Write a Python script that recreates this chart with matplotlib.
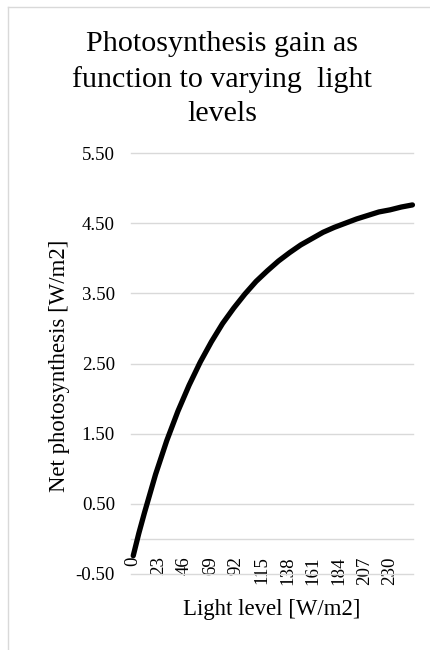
import matplotlib
matplotlib.use('Agg')
import matplotlib.pyplot as plt
from matplotlib.lines import Line2D

# Data
light_level = [0, 5, 10, 20, 30, 40, 50, 60, 70, 80, 90, 100, 110, 120, 130,
               140, 150, 160, 170, 180, 190, 200, 210, 220, 230, 240, 250]
net_photosynthesis = [-0.24, 0.08, 0.37, 0.92, 1.40, 1.82, 2.19, 2.52, 2.81,
                      3.07, 3.29, 3.49, 3.67, 3.82, 3.96, 4.08, 4.19, 4.28,
                      4.37, 4.44, 4.50, 4.56, 4.61, 4.66, 4.69, 4.73, 4.76]
x_tick_values = [0, 23, 46, 69, 92, 115, 138, 161, 184, 207, 230]
y_tick_values = [-0.5, 0.5, 1.5, 2.5, 3.5, 4.5, 5.5]
y_tick_labels = ["-0.50", "0.50", "1.50", "2.50", "3.50", "4.50", "5.50"]

title_text = "Photosynthesis gain as\nfunction to varying  light\nlevels"
x_label = "Light level [W/m2]"
y_label = "Net photosynthesis [W/m2]"

plt.rcParams['font.family'] = ['Liberation Serif', 'DejaVu Serif']

W, H = 430, 650
fig = plt.figure(figsize=(W / 100, H / 100), dpi=100)
fig.patch.set_facecolor('white')

# chart-area border (left and top visible)
border = '#d9d9d9'
fig.add_artist(Line2D([8 / W, 8 / W], [0, 1 - 7 / H], color=border, lw=1.0))
fig.add_artist(Line2D([8 / W, 1], [1 - 7 / H, 1 - 7 / H], color=border, lw=1.0))

left, right, top, bottom = 131, 413, 153, 574
ax = fig.add_axes([left / W, 1 - bottom / H, (right - left) / W, (bottom - top) / H])
ax.set_facecolor('white')
ax.set_xlim(-2.0, 250.5)
ax.set_ylim(-0.5, 5.5)

for s in ['left', 'right', 'top']:
    ax.spines[s].set_visible(False)
ax.spines['bottom'].set_position(('data', 0))
ax.spines['bottom'].set_color(border)
ax.spines['bottom'].set_linewidth(1.0)

ax.set_yticks(y_tick_values)
ax.set_yticklabels(y_tick_labels)
ax.yaxis.grid(True, color=border, lw=1.0)
ax.set_axisbelow(True)
for gl in ax.yaxis.get_gridlines():
    gl.set_clip_on(False)
ax.tick_params(axis='y', length=0, pad=11.5, labelsize=13.6, labelcolor='#000000')

ax.set_xticks(x_tick_values)
ax.set_xticklabels([str(v) for v in x_tick_values], rotation=90)
ax.tick_params(axis='x', length=0, pad=12.6, labelsize=13.6, labelcolor='#000000')

ax.plot(light_level, net_photosynthesis, color='black', lw=3.8,
        solid_capstyle='round', solid_joinstyle='round', zorder=3, clip_on=False)

fig.text(222 / W, 1 - 31 / H, title_text, ha='center', va='top',
         fontsize=21.6, linespacing=1.42, color='#000000')
fig.text(272 / W, 1 - 615 / H, x_label, ha='center', va='baseline',
         fontsize=16.4, color='#000000')
fig.text(60 / W, 1 - 366 / H, y_label, ha='center', va='center',
         rotation=90, fontsize=16.4, color='#000000')

fig.savefig('out.png', dpi=100, facecolor='white')
